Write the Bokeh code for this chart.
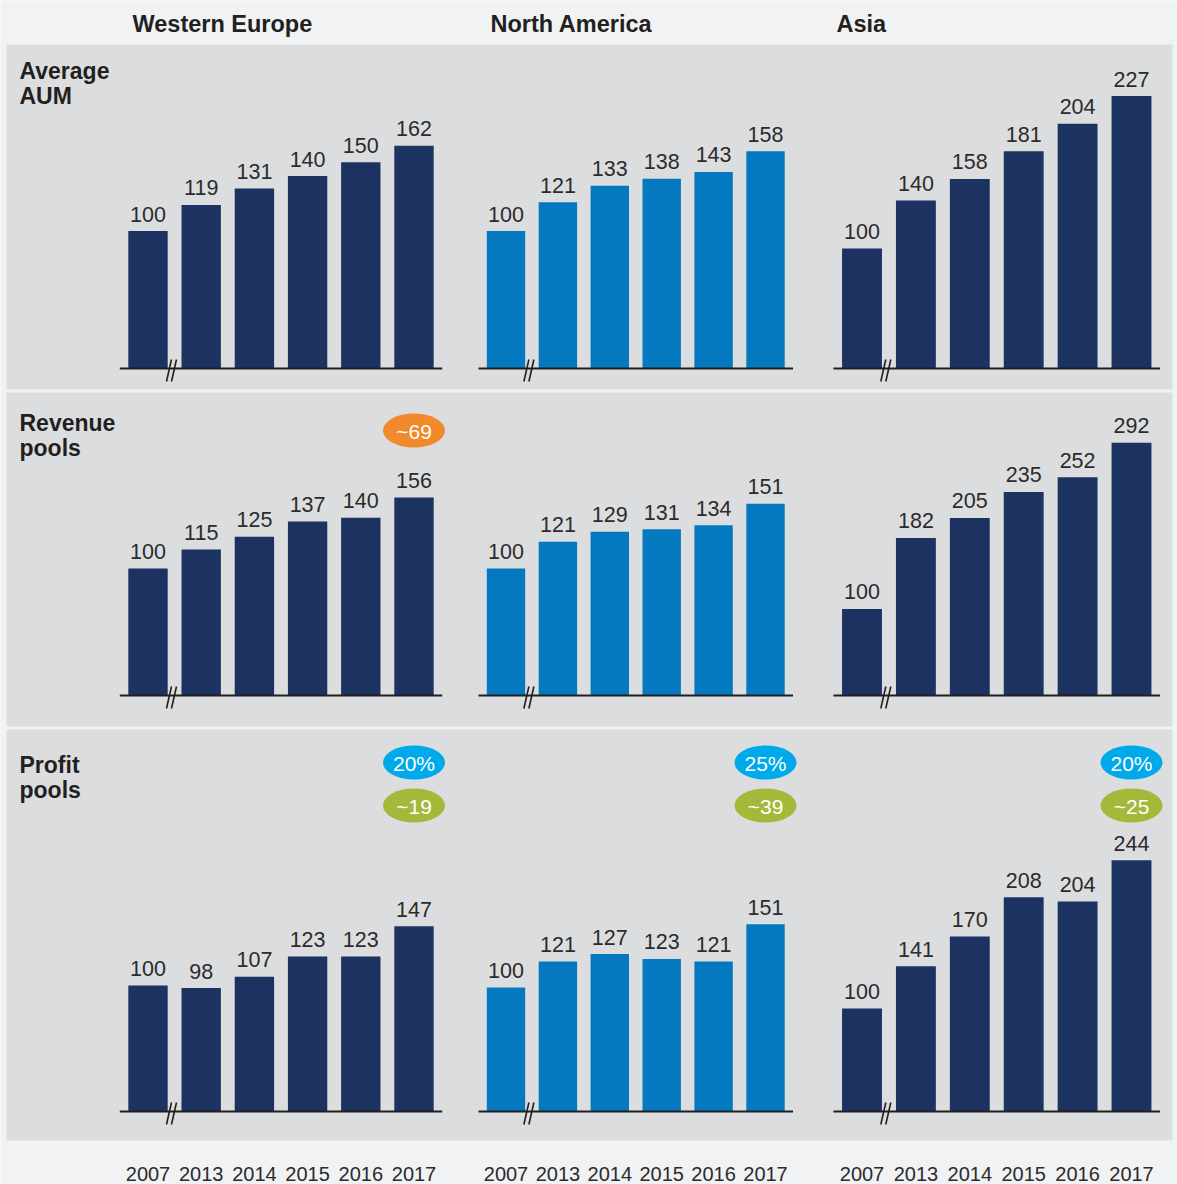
from bokeh.plotting import figure
from bokeh.models import Range1d
from bokeh.core.properties import value
from bokeh.embed import file_html
from bokeh.resources import INLINE

# ---------------- data ----------------
years = ["2007", "2013", "2014", "2015", "2016", "2017"]
regions = ["Western Europe", "North America", "Asia"]
row_labels = [["Average", "AUM"], ["Revenue", "pools"], ["Profit", "pools"]]

aum_we = [100, 119, 131, 140, 150, 162]
aum_na = [100, 121, 133, 138, 143, 158]
aum_asia = [100, 140, 158, 181, 204, 227]
rev_we = [100, 115, 125, 137, 140, 156]
rev_na = [100, 121, 129, 131, 134, 151]
rev_asia = [100, 182, 205, 235, 252, 292]
prof_we = [100, 98, 107, 123, 123, 147]
prof_na = [100, 121, 127, 123, 121, 151]
prof_asia = [100, 141, 170, 208, 204, 244]

revenue_badges = ["~69", None, None]
margin_badges = ["20%", "25%", "20%"]
profit_badges = ["~19", "~39", "~25"]

series = [[aum_we, aum_na, aum_asia],
          [rev_we, rev_na, rev_asia],
          [prof_we, prof_na, prof_asia]]

# ---------------- layout / style ----------------
W, H = 1177, 1184
PAGE_BG = "#f1f2f4"
PANEL_BG = "#dcdddf"
NAVY = "#1c3260"
BLUE = "#0479bf"
TXT = "#231f20"
VAL = "#2b2b2b"
FONT = "Liberation Sans"

col_first = [147.5, 505.5, 861.5]      # px of first bar centre
col_pitch = [53.2, 51.9, 53.9]         # px between bars
col_color = [NAVY, BLUE, NAVY]
row_base = [368, 695, 1111]            # px of baseline
row_scale = [[1.375, 1.375, 1.2],      # px per unit
             [1.27, 1.27, 0.866],
             [1.26, 1.24, 1.03]]
panel_top = [44, 392, 729]
panel_bot = [389, 726, 1140]

p = figure(width=W, height=H, output_backend="svg", toolbar_location=None, tools="",
           x_range=Range1d(0, W), y_range=Range1d(H, 0),
           x_axis_type=None, y_axis_type=None, min_border=0)
p.grid.visible = False
p.outline_line_color = None
p.background_fill_color = PAGE_BG
p.border_fill_color = PAGE_BG

# extra ranges: one x range per column (bar index units), one y range per panel
for c in range(3):
    f, pt = col_first[c], col_pitch[c]
    p.extra_x_ranges[f"x{c}"] = Range1d(-f / pt, (W - f) / pt)
for r in range(3):
    b = row_base[r]
    for c in range(3):
        s = row_scale[r][c]
        p.extra_y_ranges[f"y{r}{c}"] = Range1d(-(H - b) / s, b / s)

# panel backgrounds
p.quad(left=[6] * 3, right=[1172] * 3, top=panel_top, bottom=panel_bot,
       fill_color=PANEL_BG, line_color=None)

idx = list(range(len(years)))
for r in range(3):
    for c in range(3):
        vals = series[r][c]
        xr, yr = f"x{c}", f"y{r}{c}"
        p.vbar(x=idx, top=vals, bottom=0, width=0.74, fill_color=col_color[c],
               line_color=None, x_range_name=xr, y_range_name=yr)
        p.text(x=idx, y=vals, text=[str(v) for v in vals], x_range_name=xr, y_range_name=yr,
               text_align="center", text_baseline="middle", y_offset=-17,
               text_font=value(FONT), text_font_size="21.5px", text_color=VAL)
        p.segment(x0=[-0.53], y0=[0], x1=[5.53], y1=[0], line_color=TXT, line_width=2,
                  x_range_name=xr, y_range_name=yr)
        # axis break marks
        xc = col_first[c] + 0.46 * col_pitch[c]
        b = row_base[r]
        p.segment(x0=[xc - 6, xc - 1], y0=[b + 13, b + 13], x1=[xc - 1, xc + 4], y1=[b - 9, b - 9],
                  line_color=TXT, line_width=1.6)

# region titles
p.text(x=[132, 490, 836], y=[23, 23, 23], text=regions, text_align="left",
       text_baseline="middle", text_font=value(FONT), text_font_style="bold",
       text_font_size="23.5px", text_color=TXT)

# row labels
lab_y = [[70, 95], [422, 447], [764, 789]]
for r in range(3):
    p.text(x=[19, 19], y=lab_y[r], text=row_labels[r], text_align="left",
           text_baseline="middle", text_font=value(FONT), text_font_style="bold",
           text_font_size="23px", text_color=TXT)

# year labels
for c in range(3):
    p.text(x=idx, y=[1173] * len(idx), text=years, x_range_name=f"x{c}",
           text_align="center", text_baseline="middle", text_font=value(FONT),
           text_font_size="20px", text_color=VAL)


def badge(c, y, label, color):
    p.ellipse(x=[5], y=[y], width=62, height=34, width_units="screen", height_units="screen",
              fill_color=color, line_color=None, x_range_name=f"x{c}")
    p.text(x=[5], y=[y], text=[label], x_range_name=f"x{c}", text_align="center",
           text_baseline="middle", y_offset=1, text_font=value(FONT), text_font_size="21px",
           text_color="white")


for c in range(3):
    if revenue_badges[c]:
        badge(c, 430, revenue_badges[c], "#f08a2b")
    badge(c, 762, margin_badges[c], "#00a9ea")
    badge(c, 805, profit_badges[c], "#a4b83a")

open("out.html", "w").write(file_html(p, INLINE))
